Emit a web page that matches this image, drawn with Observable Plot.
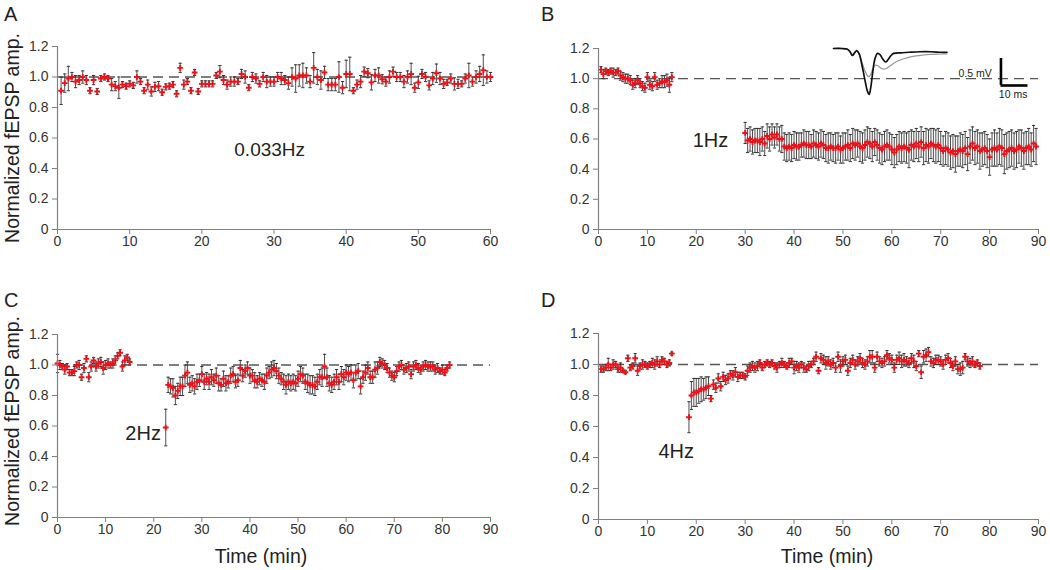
<!DOCTYPE html>
<html><head><meta charset="utf-8">
<script src="https://cdn.jsdelivr.net/npm/d3@7"></script>
<script src="https://cdn.jsdelivr.net/npm/@observablehq/plot@0.6"></script>
<style>
body{margin:0;background:#fff;}
#fig{position:relative;width:1050px;height:570px;font-family:"Liberation Sans",Arial,sans-serif;color:#222;overflow:hidden;background:#fff;}
.abs{position:absolute;}
.letter{font-size:20px;line-height:1;}
.ylab{font-size:19.5px;white-space:nowrap;transform:translate(-50%,-50%) rotate(-90deg);line-height:1;}
.xlab{font-size:19.5px;white-space:nowrap;transform:translate(-50%,-50%);line-height:1;}
</style></head><body><div id="fig"></div>
<script>
// ---------- DATA ----------
const xTicks60 = [0,10,20,30,40,50,60];
const xTicks90 = [0,10,20,30,40,50,60,70,80,90];
const yTicks = [0,0.2,0.4,0.6,0.8,1.0,1.2];
const panelLetters = ["A","B","C","D"];
const yTitle = "Normalized fEPSP amp.";
const xTitle = "Time (min)";
const noteText = ["0.033Hz","1Hz","2Hz","4Hz"];
const noteX = [29.4,22.9,17.8,15.9];
const noteY = [0.52,0.59,0.55,0.44];

// Panel A (0.033 Hz)
const aTime = [0.5,1,1.5,2,2.5,3,3.5,4,4.5,5,5.5,6,6.5,7,7.5,8,8.5,9,9.5,10,10.5,11,11.5,12,12.5,13,13.5,14,14.5,15,15.5,16,16.5,17,17.5,18,18.5,19,19.5,20,20.5,21,21.5,22,22.5,23,23.5,24,24.5,25,25.5,26,26.5,27,27.5,28,28.5,29,29.5,30,30.5,31,31.5,32,32.5,33,33.5,34,34.5,35,35.5,36,36.5,37,37.5,38,38.5,39,39.5,40,40.5,41,41.5,42,42.5,43,43.5,44,44.5,45,45.5,46,46.5,47,47.5,48,48.5,49,49.5,50,50.5,51,51.5,52,52.5,53,53.5,54,54.5,55,55.5,56,56.5,57,57.5,58,58.5,59,59.5,60];
const aMean = [0.91,0.96,0.99,1.00,0.97,0.98,1.00,0.98,0.91,0.98,
0.905,0.99,1.00,0.99,0.95,0.94,0.93,0.95,0.94,0.955,
0.945,1.00,0.97,0.91,0.95,0.905,0.935,0.94,0.90,0.935,
0.94,0.95,0.89,1.06,0.95,0.97,0.91,1.03,0.905,0.955,
0.955,0.955,0.955,1.01,1.035,0.98,0.95,0.97,0.97,0.97,
1.02,1.00,0.93,1.00,0.99,0.955,1.00,0.97,0.97,0.97,
1.00,0.99,0.98,0.96,1.00,0.99,1.01,1.01,1.01,0.97,
1.06,1.00,0.98,1.03,0.95,0.95,0.95,1.00,0.93,1.02,
1.02,0.91,0.95,0.97,1.035,1.025,0.965,1.01,1.01,0.985,
0.97,1.00,1.035,1.00,1.00,0.97,1.00,1.02,0.93,0.965,
1.02,1.00,0.945,0.99,1.025,0.99,0.955,0.965,0.99,0.955,
0.955,0.955,0.99,1.01,0.97,1.00,1.02,1.045,1.00,1.00];
const aSem = [0.09,0.06,0.08,0.03,0.04,0.03,0.04,0.03,0.02,0.03,
0.02,0.02,0.02,0.02,0.04,0.03,0.07,0.02,0.02,0.02,
0.02,0.04,0.02,0.02,0.03,0.03,0.03,0.03,0.02,0.02,
0.02,0.02,0.02,0.03,0.03,0.02,0.02,0.02,0.02,0.02,
0.02,0.02,0.02,0.02,0.04,0.03,0.03,0.03,0.03,0.02,
0.03,0.04,0.02,0.03,0.03,0.02,0.03,0.04,0.03,0.03,
0.03,0.04,0.03,0.04,0.06,0.09,0.07,0.08,0.05,0.04,
0.10,0.05,0.06,0.04,0.04,0.04,0.04,0.10,0.04,0.09,
0.11,0.02,0.03,0.04,0.03,0.03,0.05,0.04,0.05,0.03,
0.03,0.04,0.03,0.03,0.03,0.04,0.04,0.07,0.03,0.04,
0.03,0.03,0.03,0.04,0.06,0.04,0.03,0.02,0.03,0.04,
0.03,0.02,0.03,0.08,0.03,0.04,0.05,0.10,0.04,0.03];

// Panel B (1 Hz)
const bTime = [0.5,1,1.5,2,2.5,3,3.5,4,4.5,5,5.5,6,6.5,7,7.5,8,8.5,9,9.5,10,10.5,11,11.5,12,12.5,13,13.5,14,14.5,15,
30,30.5,31,31.5,32,32.5,33,33.5,34,34.5,35,35.5,36,36.5,37,37.5,38,38.5,39,39.5,40,40.5,41,41.5,42,42.5,43,43.5,44,44.5,45,45.5,46,46.5,47,47.5,48,48.5,49,49.5,50,50.5,51,51.5,52,52.5,53,53.5,54,54.5,55,55.5,56,56.5,57,57.5,58,58.5,59,59.5,60,60.5,61,61.5,62,62.5,63,63.5,64,64.5,65,65.5,66,66.5,67,67.5,68,68.5,69,69.5,70,70.5,71,71.5,72,72.5,73,73.5,74,74.5,75,75.5,76,76.5,77,77.5,78,78.5,79,79.5,80,80.5,81,81.5,82,82.5,83,83.5,84,84.5,85,85.5,86,86.5,87,87.5,88,88.5,89,89.5];
const bMean = [1.06,1.03,1.05,1.04,1.05,1.04,1.04,1.05,1.02,1.01,
1.00,1.00,0.99,0.96,0.97,0.99,0.97,0.95,0.94,1.01,
0.96,0.95,1.01,0.96,0.97,0.98,0.98,0.99,0.96,1.01,
0.64,0.59,0.60,0.58,0.59,0.59,0.58,0.60,0.57,0.62,
0.60,0.63,0.61,0.63,0.60,0.60,0.55,0.54,0.55,0.54,
0.56,0.55,0.55,0.56,0.57,0.56,0.56,0.55,0.57,0.56,
0.55,0.57,0.56,0.54,0.54,0.55,0.54,0.54,0.55,0.53,
0.54,0.55,0.56,0.54,0.57,0.56,0.57,0.55,0.54,0.56,
0.58,0.57,0.55,0.58,0.56,0.54,0.53,0.55,0.56,0.55,
0.53,0.51,0.53,0.55,0.54,0.55,0.54,0.53,0.56,0.55,
0.57,0.55,0.58,0.54,0.56,0.55,0.57,0.56,0.55,0.56,
0.54,0.52,0.54,0.53,0.51,0.52,0.50,0.52,0.53,0.52,
0.54,0.50,0.55,0.57,0.54,0.55,0.52,0.53,0.54,0.52,
0.48,0.53,0.54,0.53,0.55,0.54,0.50,0.52,0.53,0.54,
0.52,0.53,0.55,0.54,0.52,0.54,0.55,0.53,0.57,0.55];
const bSem = [0.02,0.03,0.02,0.02,0.02,0.03,0.02,0.02,0.03,0.03,
0.03,0.03,0.03,0.03,0.03,0.03,0.03,0.03,0.03,0.03,
0.03,0.03,0.03,0.03,0.03,0.04,0.04,0.04,0.05,0.03,
0.07,0.08,0.08,0.08,0.08,0.08,0.09,0.08,0.08,0.08,
0.08,0.07,0.07,0.07,0.08,0.09,0.09,0.09,0.09,0.09,
0.09,0.09,0.09,0.08,0.09,0.09,0.09,0.08,0.09,0.09,
0.09,0.09,0.09,0.09,0.10,0.09,0.09,0.10,0.09,0.09,
0.10,0.09,0.10,0.09,0.10,0.10,0.09,0.10,0.10,0.10,
0.10,0.10,0.10,0.09,0.10,0.10,0.10,0.10,0.10,0.09,
0.10,0.10,0.10,0.10,0.10,0.10,0.10,0.12,0.10,0.10,
0.10,0.10,0.10,0.11,0.11,0.11,0.10,0.11,0.11,0.11,
0.11,0.10,0.11,0.11,0.11,0.11,0.12,0.10,0.11,0.11,
0.11,0.11,0.11,0.11,0.11,0.11,0.12,0.11,0.11,0.11,
0.12,0.11,0.12,0.11,0.12,0.12,0.13,0.12,0.12,0.12,
0.12,0.12,0.11,0.12,0.12,0.11,0.12,0.11,0.12,0.12];

// Panel C (2 Hz)
const cTime = [0,0.5,1,1.5,2,2.5,3,3.5,4,4.5,5,5.5,6,6.5,7,7.5,8,8.5,9,9.5,10,10.5,11,11.5,12,12.5,13,13.5,14,14.5,15,
22.5,
23,23.5,24,24.5,25,25.5,26,26.5,27,27.5,28,28.5,29,29.5,30,30.5,31,31.5,32,32.5,33,33.5,34,34.5,35,35.5,36,36.5,37,37.5,38,38.5,39,39.5,40,40.5,41,41.5,42,42.5,43,43.5,44,44.5,45,45.5,46,46.5,47,47.5,48,48.5,49,49.5,50,50.5,51,51.5,52,52.5,53,53.5,54,54.5,55,55.5,56,56.5,57,57.5,58,58.5,59,59.5,60,60.5,61,61.5,62,62.5,63,63.5,64,64.5,65,65.5,66,66.5,67,67.5,68,68.5,69,69.5,70,70.5,71,71.5,72,72.5,73,73.5,74,74.5,75,75.5,76,76.5,77,77.5,78,78.5,79,79.5,80,80.5,81,81.5];
const cMean = [1.01,1.00,0.99,0.97,0.99,0.95,0.95,0.96,1.00,1.00,
0.92,0.98,1.04,0.92,0.99,1.03,0.99,1.01,1.02,0.98,
1.00,1.01,1.00,1.01,1.03,1.06,1.08,0.99,1.03,1.05,1.02,
0.59,
0.87,0.86,0.85,0.80,0.83,0.86,0.86,0.93,0.95,0.87,
0.88,0.86,0.89,0.90,0.94,0.89,0.91,0.89,0.92,0.90,
0.93,0.88,0.87,0.91,0.88,0.89,0.93,0.94,0.89,0.90,
0.98,0.93,0.96,0.98,0.93,0.93,0.90,0.89,0.91,0.90,
0.89,0.93,0.95,0.97,0.98,0.96,0.93,0.91,0.89,0.87,
0.89,0.88,0.89,0.88,0.91,0.94,0.93,0.89,0.88,0.87,
0.87,0.86,0.89,0.92,0.92,0.99,0.92,0.88,0.87,0.89,
0.92,0.89,0.94,0.92,0.95,0.94,0.95,0.90,0.95,0.96,
0.86,0.92,0.95,0.98,0.92,0.92,0.97,0.98,1.02,1.01,
1.00,0.98,0.95,0.93,0.92,0.96,0.99,1.00,0.97,0.98,
0.99,0.94,0.99,1.00,0.98,0.97,0.99,1.00,0.99,0.99,
0.99,0.97,0.98,0.96,0.97,0.95,0.98,1.00];
const cSem = [0.06,0.03,0.02,0.03,0.02,0.02,0.02,0.03,0.02,0.03,
0.02,0.03,0.02,0.03,0.03,0.02,0.03,0.03,0.03,0.04,
0.03,0.03,0.02,0.03,0.03,0.02,0.02,0.03,0.03,0.02,0.02,
0.12,
0.05,0.05,0.06,0.06,0.05,0.06,0.06,0.07,0.07,0.05,
0.05,0.05,0.05,0.04,0.05,0.05,0.04,0.05,0.05,0.04,
0.05,0.05,0.04,0.05,0.05,0.04,0.05,0.05,0.04,0.04,
0.05,0.04,0.04,0.04,0.05,0.04,0.05,0.04,0.04,0.04,
0.05,0.05,0.04,0.05,0.05,0.05,0.05,0.04,0.05,0.06,
0.05,0.05,0.05,0.05,0.05,0.05,0.05,0.05,0.06,0.06,
0.06,0.06,0.05,0.05,0.06,0.08,0.06,0.05,0.05,0.05,
0.05,0.05,0.05,0.05,0.05,0.05,0.05,0.05,0.05,0.05,
0.05,0.04,0.05,0.04,0.04,0.04,0.05,0.04,0.03,0.03,
0.03,0.03,0.03,0.03,0.03,0.03,0.03,0.03,0.03,0.03,
0.03,0.03,0.03,0.03,0.03,0.03,0.03,0.03,0.03,0.03,
0.03,0.03,0.03,0.02,0.03,0.02,0.02,0.02];

// Panel D (4 Hz)
const dTime = [0.5,1,1.5,2,2.5,3,3.5,4,4.5,5,5.5,6,6.5,7,7.5,8,8.5,9,9.5,10,10.5,11,11.5,12,12.5,13,13.5,14,14.5,15,
18.5,19,19.5,20,20.5,21,21.5,22,22.5,23,23.5,24,24.5,25,25.5,26,26.5,27,27.5,28,28.5,29,29.5,30,30.5,31,31.5,32,32.5,33,33.5,34,34.5,35,35.5,36,36.5,37,37.5,38,38.5,39,39.5,40,40.5,41,41.5,42,42.5,43,43.5,44,44.5,45,45.5,46,46.5,47,47.5,48,48.5,49,49.5,50,50.5,51,51.5,52,52.5,53,53.5,54,54.5,55,55.5,56,56.5,57,57.5,58,58.5,59,59.5,60,60.5,61,61.5,62,62.5,63,63.5,64,64.5,65,65.5,66,66.5,67,67.5,68,68.5,69,69.5,70,70.5,71,71.5,72,72.5,73,73.5,74,74.5,75,75.5,76,76.5,77,77.5,78];
const dMean = [0.97,0.97,0.98,1.00,0.98,1.00,1.00,0.97,0.98,0.96,
0.95,1.04,0.98,0.99,1.04,0.96,0.99,1.00,1.00,0.99,
1.00,1.01,1.00,1.02,1.00,1.03,1.02,1.00,1.01,1.07,
0.66,0.80,0.82,0.82,0.83,0.84,0.84,0.85,0.86,0.78,
0.87,0.85,0.91,0.86,0.92,0.90,0.91,0.94,0.93,0.95,
0.92,0.93,0.93,0.92,0.96,0.98,0.99,0.98,0.99,1.01,
0.98,1.00,1.01,1.00,1.01,0.99,0.98,1.00,1.01,1.00,
0.99,1.01,1.02,0.98,0.99,0.98,1.00,0.98,0.97,0.99,
1.00,1.02,1.05,0.96,1.04,1.03,1.01,1.02,1.00,1.01,
0.98,1.05,0.99,1.02,1.03,0.96,1.01,1.03,1.00,1.02,
1.04,1.01,1.00,1.02,1.05,1.05,0.98,1.05,1.02,1.01,
1.02,1.06,1.04,1.03,0.98,1.03,1.04,1.02,1.03,1.02,
1.01,1.04,1.02,0.99,1.07,0.95,1.05,1.06,1.08,1.02,
1.01,1.03,1.03,1.02,1.00,1.03,1.04,1.01,0.99,1.02,
0.97,0.97,0.98,1.05,1.02,1.01,1.02,1.00,1.01,0.99];
const dSem = [0.02,0.02,0.02,0.04,0.02,0.03,0.02,0.02,0.03,0.01,
0.01,0.02,0.02,0.02,0.03,0.03,0.02,0.03,0.02,0.02,
0.02,0.03,0.03,0.03,0.02,0.02,0.02,0.02,0.02,0.01,
0.10,0.09,0.09,0.09,0.08,0.08,0.07,0.07,0.06,0.02,
0.03,0.03,0.03,0.03,0.03,0.03,0.03,0.02,0.03,0.03,
0.03,0.02,0.02,0.02,0.03,0.03,0.03,0.03,0.03,0.02,
0.02,0.02,0.02,0.02,0.02,0.02,0.03,0.02,0.03,0.02,
0.02,0.03,0.02,0.04,0.03,0.03,0.02,0.03,0.02,0.03,
0.02,0.02,0.03,0.02,0.03,0.03,0.04,0.03,0.03,0.03,
0.03,0.03,0.04,0.03,0.03,0.03,0.03,0.03,0.03,0.03,
0.03,0.03,0.03,0.03,0.04,0.04,0.03,0.03,0.03,0.03,
0.03,0.03,0.03,0.03,0.03,0.03,0.04,0.04,0.04,0.03,
0.03,0.03,0.04,0.03,0.02,0.04,0.04,0.04,0.03,0.03,
0.03,0.03,0.03,0.03,0.03,0.03,0.03,0.03,0.03,0.03,
0.03,0.04,0.04,0.02,0.03,0.03,0.03,0.02,0.02,0.02];

// Inset traces (panel B): time in ms, amplitude in mV
const blackMs = [0,3,5,6,7,7.8,8.6,9.5,10.5,11.5,12.5,13.2,13.8,14.5,15.3,16.3,17.3,18.3,19.3,20.3,21.3,22.3,25,28,32,36,40,42];
const blackMv = [0,0,-0.01,-0.05,-0.13,-0.08,-0.04,-0.1,-0.3,-0.55,-0.78,-0.85,-0.72,-0.45,-0.2,-0.09,-0.12,-0.2,-0.25,-0.2,-0.13,-0.09,-0.08,-0.07,-0.06,-0.06,-0.07,-0.07];
const grayMs = [0,3,5,6,7,7.8,8.6,9.5,10.5,11.5,12.5,13.2,13.8,14.5,15.5,16.5,17.5,18.5,19.5,21,23,26,29,32,36,42];
const grayMv = [0,0,-0.01,-0.05,-0.13,-0.08,-0.05,-0.1,-0.25,-0.4,-0.5,-0.52,-0.48,-0.38,-0.31,-0.32,-0.36,-0.38,-0.37,-0.32,-0.25,-0.19,-0.15,-0.13,-0.11,-0.1];
const scaleBarLabels = ["0.5 mV","10 ms"];
const scaleBarSize = [0.5, 10];

// ---------- DRAWING ----------
const FONT = '"Liberation Sans", Arial, sans-serif';
const RED = "#e8141c";
const fig = document.getElementById("fig");
const cap = {draw(ctx, size){ const w = Math.sqrt(size/Math.PI); ctx.moveTo(-w,0); ctx.lineTo(w,0); }};
const yFmt = d => d === 0 ? "0" : d.toFixed(1);

function place(node, left, top, w, h){
  const div = document.createElement("div");
  div.className = "abs";
  div.style.left = left+"px"; div.style.top = top+"px";
  if (w) { div.style.width = w+"px"; div.style.height = h+"px"; }
  div.appendChild(node);
  fig.appendChild(div);
  return div;
}
function htmlText(txt, cls, left, top){
  const d = document.createElement("div");
  d.className = "abs " + cls;
  d.style.left = left+"px"; d.style.top = top+"px";
  d.textContent = txt;
  fig.appendChild(d);
}

function panel(time, mean, sem, xmax, xTicks, m, noteIdx){
  const n = Math.min(time.length, mean.length, sem.length);
  const rows = d3.range(n).map(i => ({t: time[i], v: mean[i], lo: mean[i]-sem[i], hi: mean[i]+sem[i]}));
  const notes = [{x: noteX[noteIdx], y: noteY[noteIdx], s: noteText[noteIdx]}];
  return Plot.plot({
    width: 525, height: 285,
    marginLeft: m.ml, marginRight: m.mr, marginTop: m.mt, marginBottom: m.mb,
    style: {fontFamily: FONT, fontSize: "14px", background: "transparent", color: "#333"},
    x: {domain: [0, xmax], label: null},
    y: {domain: [0, 1.2], label: null},
    marks: [
      Plot.ruleY([1], {stroke: "#555", strokeWidth: 1.3, strokeDasharray: "10,6"}),
      Plot.ruleX(rows, {x: "t", y1: "lo", y2: "hi", stroke: "#3a3a3a", strokeWidth: 0.9}),
      Plot.dot(rows, {x: "t", y: "lo", symbol: cap, r: 1.6, stroke: "#333", fill: "none", strokeWidth: 1}),
      Plot.dot(rows, {x: "t", y: "hi", symbol: cap, r: 1.6, stroke: "#333", fill: "none", strokeWidth: 1}),
      Plot.dot(rows, {x: "t", y: "v", symbol: "plus", r: 2.0, stroke: RED, strokeWidth: 1.9}),
      Plot.ruleX([0], {stroke: "#808080", strokeWidth: 1.2}),
      Plot.ruleY([0], {stroke: "#808080", strokeWidth: 1.2}),
      Plot.axisX({ticks: xTicks, tickSize: 5, tickPadding: 2, stroke: "#808080", fill: "#333", label: null}),
      Plot.axisY({ticks: yTicks, tickFormat: yFmt, tickSize: 5, tickPadding: 4, stroke: "#808080", fill: "#333", label: null}),
      Plot.text(notes, {x: "x", y: "y", text: "s", fontSize: noteIdx === 0 ? 19 : 20, fill: "#222"})
    ]
  });
}

place(panel(aTime, aMean, aSem, 60, xTicks60, {ml: 57, mr: 35, mt: 46, mb: 56}, 0), 0, 0, 525, 285);
place(panel(bTime, bMean, bSem, 90, xTicks90, {ml: 73, mr: 12, mt: 48, mb: 56}, 1), 525, 0, 525, 285);
place(panel(cTime, cMean, cSem, 90, xTicks90, {ml: 57, mr: 35, mt: 49, mb: 53}, 2), 0, 285, 525, 285);
place(panel(dTime, dMean, dSem, 90, xTicks90, {ml: 73, mr: 12, mt: 48, mb: 51}, 3), 525, 285, 525, 285);

// Inset traces in panel B
const blackRows = blackMs.map((t,i)=>({t, v: blackMv[i]}));
const grayRows = grayMs.map((t,i)=>({t, v: grayMv[i]}));
const barT = 62, barV = -0.685;
const inset = Plot.plot({
  width: 205, height: 70, marginTop: 0, marginRight: 0, marginBottom: 0, marginLeft: 0,
  style: {fontFamily: FONT, fontSize: "10px", background: "transparent", color: "#222", overflow: "visible"},
  x: {domain: [0, 75.9], axis: null},
  y: {domain: [-1.148, 0.148], axis: null},
  marks: [
    Plot.line(grayRows, {x: "t", y: "v", stroke: "#9a9a9a", strokeWidth: 1.3, curve: "catmull-rom"}),
    Plot.line(blackRows, {x: "t", y: "v", stroke: "#111", strokeWidth: 1.7, curve: "catmull-rom"}),
    Plot.ruleX([barT], {y1: barV, y2: barV + scaleBarSize[0], stroke: "#000", strokeWidth: 2.6}),
    Plot.ruleY([barV], {x1: barT, x2: barT + scaleBarSize[1], stroke: "#000", strokeWidth: 2.6}),
    Plot.text([scaleBarLabels[0]], {x: 58.6, y: -0.47, text: d => d, textAnchor: "end", fontSize: 10.5, fill: "#222"}),
    Plot.text([scaleBarLabels[1]], {x: 66.5, y: -0.85, text: d => d, fontSize: 10.5, fill: "#222"})
  ]
});
place(inset, 833, 40, 205, 70);

// Panel letters and axis titles
htmlText(panelLetters[0], "letter", 4, 4);
htmlText(panelLetters[1], "letter", 541, 4);
htmlText(panelLetters[2], "letter", 4, 290);
htmlText(panelLetters[3], "letter", 541, 290);
htmlText(yTitle, "ylab", 13, 138);
htmlText(yTitle, "ylab", 13, 421);
htmlText(xTitle, "xlab", 261, 557);
htmlText(xTitle, "xlab", 827, 557);
</script></body></html>
